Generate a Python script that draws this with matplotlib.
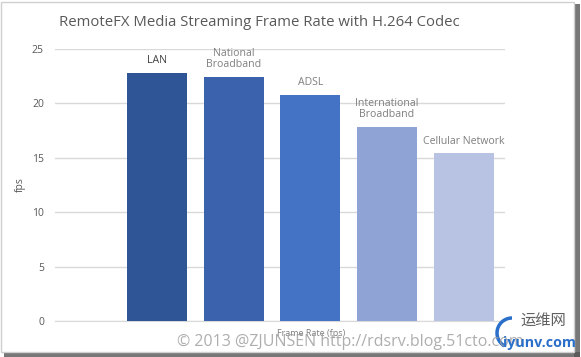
import numpy as np
import matplotlib
matplotlib.use("Agg")
import matplotlib.pyplot as plt
from matplotlib.patches import Rectangle, Arc

plt.rcParams["font.family"] = ["Open Sans", "Noto Sans CJK SC", "DejaVu Sans"]

# data
categories = ["LAN", "National\nBroadband", "ADSL", "International\nBroadband", "Cellular Network"]
fps = [22.8, 22.4, 20.8, 17.8, 15.4]
bar_colors = ["#2f5597", "#3a62ad", "#4472c4", "#8fa3d5", "#b8c3e4"]
label_colors = ["#404040", "#7f7f7f", "#7f7f7f", "#7f7f7f", "#7f7f7f"]
yticks = [0, 5, 10, 15, 20, 25]

W, H = 581, 357
fig = plt.figure(figsize=(W / 100, H / 100), dpi=100)

# frame with shadow (drawn behind the axes)
fig.patches.append(Rectangle((574 / W, 0), 6 / W, 1 - 4 / H, transform=fig.transFigure,
                             facecolor="#555555", edgecolor="none", alpha=0.8, zorder=-10))
fig.patches.append(Rectangle((4 / W, 0), 1 - 5 / W, 5 / H, transform=fig.transFigure,
                             facecolor="#555555", edgecolor="none", alpha=0.8, zorder=-10))
fig.patches.append(Rectangle((1 / W, 5 / H), 573 / W, 1 - 7 / H, transform=fig.transFigure,
                             facecolor="white", edgecolor="#d0d0d0", linewidth=1, zorder=-9))

# axes
ax = fig.add_axes([55 / W, (H - 321) / H, 450 / W, 272 / H])
ax.set_facecolor("none")
x = np.arange(len(categories))
ax.bar(x, fps, width=0.78, color=bar_colors, zorder=3)
ax.set_xlim(-1.33, 4.54)
ax.set_ylim(0, 25)
ax.set_yticks(yticks)
ax.yaxis.grid(True, color="#d9d9d9", linewidth=1, zorder=0)
ax.tick_params(axis="y", length=0, labelsize=7.5, labelcolor="#595959", pad=8)
ax.set_xticks([])
for s in ["top", "right", "left"]:
    ax.spines[s].set_visible(False)
ax.spines["bottom"].set_color("#d9d9d9")
ax.set_ylabel("fps", fontsize=7.5, color="#595959", labelpad=4)

for xi, v, lab, c in zip(x, fps, categories, label_colors):
    ax.annotate(lab, (xi, v), xytext=(0, 5), textcoords="offset points",
                ha="center", va="bottom", fontsize=7.6, color=c, linespacing=1.1)

fig.text(259 / W, 1 - 22 / H, "RemoteFX Media Streaming Frame Rate with H.264 Codec",
         ha="center", va="center", fontsize=10.7, color="#595959")
fig.text(311 / W, 1 - 333 / H, "Frame Rate (fps)", ha="center", va="center",
         fontsize=6.5, color="#7f7f7f")

# watermark
fig.text(177 / W, 1 - 342 / H, "© 2013 @ZJUNSEN http://rdsrv.blog.51cto.com",
         ha="left", va="center", fontsize=11.5, color="#a0a0a0", alpha=0.85)
fig.text(520 / W, 1 - 322 / H, "运维网", ha="left", va="center",
         fontsize=11, color="#606060")
fig.text(503 / W, 1 - 343 / H, "iyunv.com", ha="left", va="center",
         fontsize=10.3, color="#2a6fc9", fontweight="bold")
fig.patches.append(Arc((512 / W, 1 - 333 / H), 30 / W, 30 / H, theta1=90, theta2=250,
                       transform=fig.transFigure, color="#2a6fc9", linewidth=2.5))

fig.savefig("out.png", dpi=100)
